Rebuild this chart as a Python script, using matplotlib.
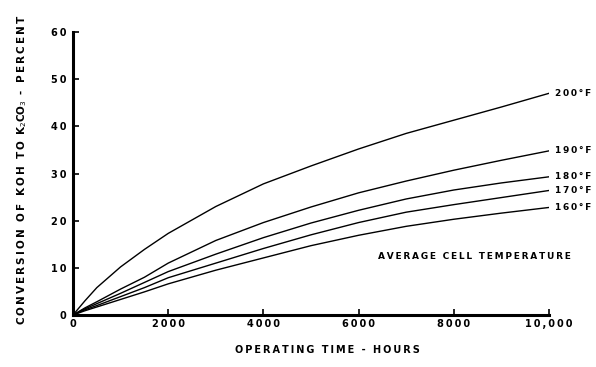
import matplotlib
matplotlib.use('Agg')
import matplotlib.pyplot as plt

# operating time (hours) and conversion (%)
hours = [0, 250, 500, 1000, 1500, 2000, 3000, 4000, 5000, 6000, 7000, 8000, 9000, 10000]
conv_200 = [0, 3.0, 5.8, 10.2, 13.9, 17.3, 23.0, 27.8, 31.6, 35.2, 38.5, 41.3, 44.1, 47.0]
conv_190 = [0, 1.5, 2.8, 5.5, 8.0, 11.0, 15.8, 19.6, 22.9, 25.9, 28.4, 30.7, 32.8, 34.8]
conv_180 = [0, 1.3, 2.4, 4.6, 6.9, 9.2, 12.9, 16.4, 19.5, 22.2, 24.6, 26.5, 28.0, 29.3]
conv_170 = [0, 1.1, 2.0, 3.9, 5.8, 7.9, 11.0, 14.1, 17.0, 19.6, 21.8, 23.4, 24.9, 26.4]
conv_160 = [0, 0.9, 1.7, 3.3, 4.9, 6.6, 9.5, 12.1, 14.7, 16.9, 18.8, 20.3, 21.6, 22.8]

series = [
    ('200°F', conv_200),
    ('190°F', conv_190),
    ('180°F', conv_180),
    ('170°F', conv_170),
    ('160°F', conv_160),
]

x_ticks = [0, 2000, 4000, 6000, 8000, 10000]
x_tick_labels = ['0', '2000', '4000', '6000', '8000', '10,000']
y_ticks = [0, 10, 20, 30, 40, 50, 60]


def spaced(s):
    # mimic the wide lettering of the original drawing
    return '\u2009'.join(s)


fig = plt.figure(figsize=(5.96, 3.67), dpi=100)
ax = fig.add_axes([73 / 596, 52 / 367, 476 / 596, 283 / 367])

for name, vals in series:
    ax.plot(hours, vals, color='black', lw=1.0)
    ax.annotate(spaced(name), xy=(hours[-1], vals[-1]), xytext=(4, 0),
                textcoords='offset points', va='center', ha='left',
                fontsize=6.5, fontweight='bold')

ax.text(6400, 12.4, spaced('AVERAGE CELL TEMPERATURE'), fontsize=6.5,
        fontweight='bold', va='center', ha='left')

ax.set_xlim(0, 10000)
ax.set_ylim(0, 60)
ax.set_xticks(x_ticks)
ax.set_xticklabels([spaced(t) for t in x_tick_labels])
ax.set_yticks(y_ticks)
ax.set_yticklabels([spaced(str(t)) for t in y_ticks])

for side in ['top', 'right']:
    ax.spines[side].set_visible(False)
for side in ['left', 'bottom']:
    ax.spines[side].set_linewidth(2.2)

ax.tick_params(axis='both', direction='in', length=4, width=1.2,
               labelsize=7)
ax.tick_params(axis='x', pad=3)
ax.tick_params(axis='y', pad=5)
for lbl in ax.get_xticklabels() + ax.get_yticklabels():
    lbl.set_fontweight('bold')

fig.text(327 / 596, 17 / 367, spaced('OPERATING TIME - HOURS'),
         ha='center', va='center', fontsize=7, fontweight='bold')
fig.text(22 / 596, 197 / 367,
         spaced('CONVERSION OF KOH TO ') + 'K$_2$CO$_3$' + spaced(' - PERCENT'),
         rotation=90, ha='center', va='center', fontsize=7.5, fontweight='bold')

fig.savefig('out.png', dpi=100)
